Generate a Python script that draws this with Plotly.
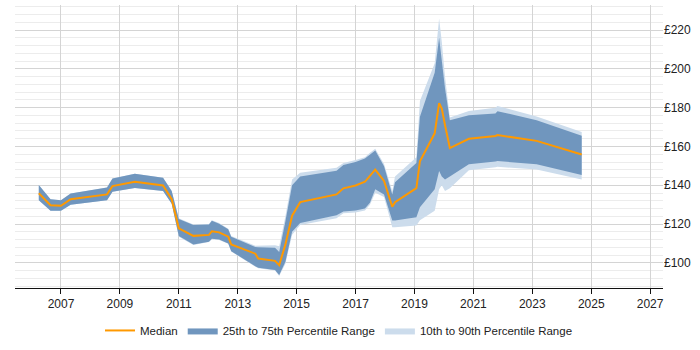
import plotly.graph_objects as go

dates = [
    "2006-04-01", "2006-08-25", "2007-01-01", "2007-05-01", "2008-07-25", "2008-10-01",
    "2009-07-05", "2010-06-20", "2010-10-05", "2011-01-01", "2011-07-01", "2012-01-10",
    "2012-02-15", "2012-05-15", "2012-09-05", "2012-10-12", "2013-08-07", "2013-09-12",
    "2014-04-08", "2014-05-30", "2014-08-15", "2014-11-06", "2015-02-14", "2016-05-10",
    "2016-08-03", "2017-01-01", "2017-04-27", "2017-06-28", "2017-09-02", "2017-12-20",
    "2018-04-01", "2018-05-05", "2019-01-25", "2019-03-10", "2019-09-09", "2019-11-03",
    "2019-12-06", "2020-01-15", "2020-03-15", "2020-11-06", "2021-10-01", "2021-10-27",
    "2023-02-24", "2024-09-05",
]
median = [
    135.9, 129.7, 129.4, 132.8, 135.3, 139.6,
    141.8, 139.9, 132.8, 117.8, 113.9, 114.4,
    116.3, 115.7, 113.5, 109.5, 104.7, 102.2,
    101.0, 98.8, 109.5, 124.3, 131.3, 135.3,
    138.4, 139.9, 141.8, 144.7, 148.1, 142.2,
    128.9, 131.3, 138.5, 152.4, 166.8, 182.4,
    179.6, 171.0, 159.2, 164.0, 165.4, 165.9,
    162.9, 155.9,
]
p25 = [
    132.3, 126.9, 126.9, 129.9, 132.3, 136.7,
    138.6, 137.1, 130.5, 113.8, 109.5, 110.9,
    112.4, 112.0, 110.0, 106.0, 98.2, 97.5,
    96.3, 93.7, 100.5, 116.0, 120.5, 124.5,
    126.5, 127.0, 128.0, 131.0, 137.9, 135.3,
    121.8, 121.8, 123.5, 128.6, 137.9, 147.3,
    144.5, 143.0, 144.5, 150.8, 152.3, 152.5,
    150.8, 145.3,
]
p75 = [
    140.1, 132.8, 132.3, 135.7, 138.8, 143.5,
    145.9, 143.9, 137.1, 122.6, 119.5, 119.8,
    121.7, 120.2, 117.3, 113.5, 108.2, 108.0,
    107.8, 105.6, 121.5, 140.0, 144.5, 147.5,
    150.5, 152.0, 153.8, 156.0, 158.0, 149.8,
    135.3, 141.5, 151.5, 175.3, 198.0, 216.1,
    205.0, 190.0, 173.5, 176.1, 177.0, 178.2,
    173.6, 165.5,
]
p10 = [
    132.3, 126.9, 126.9, 129.9, 132.3, 136.7,
    138.6, 137.1, 130.5, 113.5, 109.2, 110.7,
    112.2, 111.8, 109.8, 105.8, 98.0, 97.2,
    96.0, 93.2, 99.5, 114.5, 119.5, 123.0,
    125.5, 126.0, 127.0, 130.0, 136.2, 134.0,
    118.4, 118.4, 119.2, 122.0, 126.9, 137.9,
    140.0, 137.0, 138.5, 147.8, 149.3, 149.5,
    148.1, 143.0,
]
p90 = [
    140.1, 132.8, 132.3, 135.7, 138.8, 143.5,
    145.9, 143.9, 137.1, 123.0, 119.8, 120.0,
    122.0, 120.5, 117.6, 113.8, 108.8, 108.8,
    109.0, 108.5, 124.0, 143.0, 146.5, 149.0,
    151.5, 153.0, 154.5, 156.8, 158.8, 151.0,
    137.0, 144.5, 154.4, 183.5, 203.0, 226.0,
    214.0, 196.0, 175.0, 178.3, 180.0, 180.9,
    175.5, 167.5,
]

light = "#ccdcec"
dark = "#7096be"
orange = "#ff9900"

fig = go.Figure()
fig.add_trace(go.Scatter(x=dates, y=p10, mode="lines", line=dict(width=0, color=light),
                         showlegend=False, hoverinfo="skip"))
fig.add_trace(go.Scatter(x=dates, y=p90, mode="lines", line=dict(width=0, color=light),
                         fill="tonexty", fillcolor=light, name="10th to 90th Percentile Range",
                         legendrank=3))
fig.add_trace(go.Scatter(x=dates, y=p25, mode="lines", line=dict(width=0, color=dark),
                         showlegend=False, hoverinfo="skip"))
fig.add_trace(go.Scatter(x=dates, y=p75, mode="lines", line=dict(width=0, color=dark),
                         fill="tonexty", fillcolor=dark, name="25th to 75th Percentile Range",
                         legendrank=2))
fig.add_trace(go.Scatter(x=dates, y=median, mode="lines", line=dict(width=2, color=orange),
                         name="Median", legendrank=1))

fig.update_layout(
    width=700, height=350,
    margin=dict(l=15, r=37, t=5, b=58),
    paper_bgcolor="white", plot_bgcolor="white",
    font=dict(family="Liberation Sans, Arial, sans-serif", size=12, color="#222"),
    legend=dict(orientation="h", x=0.5, xanchor="center", y=-0.15, yanchor="middle",
                font=dict(size=11.5, color="#222"), itemwidth=30, traceorder="normal"),
    xaxis=dict(
        type="date", range=["2005-06-10", "2027-06-10"],
        tick0="2007-01-01", dtick="M24", tickformat="%Y",
        showgrid=True, gridcolor="#d4d4d4", gridwidth=1,
        showline=True, linecolor="#111", linewidth=1,
        ticks="outside", ticklen=5, tickcolor="#111",
        zeroline=False,
    ),
    yaxis=dict(
        side="right", range=[87, 233], tick0=0, dtick=20, tickprefix="£",
        showgrid=True, gridcolor="#d4d4d4", gridwidth=1,
        minor=dict(dtick=4, tick0=0, showgrid=True, gridcolor="#ececec", gridwidth=1),
        showline=False, zeroline=False, ticks="",
    ),
)

fig.write_html("out.html")
